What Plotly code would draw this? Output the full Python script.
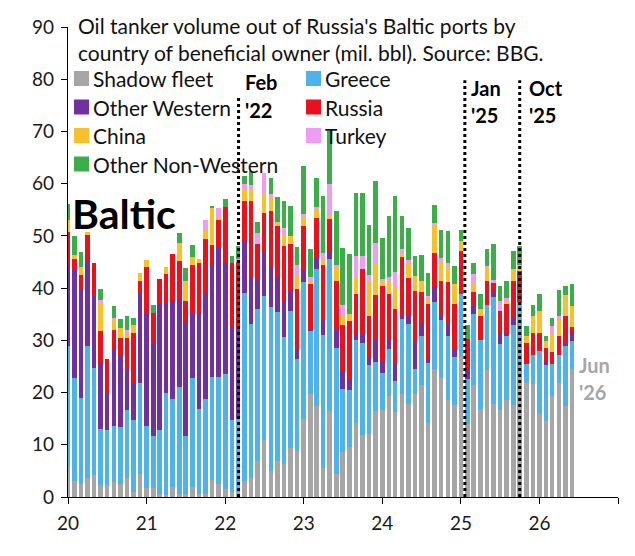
import plotly.graph_objects as go
import pandas as pd

# ---- data (mil. bbl), monthly Jan 2020 .. Jun 2026 ----
months = pd.date_range("2020-01-01", "2026-06-01", freq="MS")

shadow = [5.7,3.1,2.5,3.7,4.2,2.3,2.3,2.9,2.5,3.7,1.0,4.5,
          1.7,1.7,0.5,0.3,1.9,0.6,0.6,1.9,0.6,0.5,3.2,2.5,
          1.5,1.0,1.0,3.1,3.7,6.9,11.0,5.0,6.9,6.4,9.3,8.9,
          15.0,19.8,17.5,5.6,16.5,4.5,8.7,9.6,14.1,11.8,12.1,16.4,
          16.6,19.4,16.3,19.8,17.9,19.8,21.5,14.1,24.5,22.8,18.5,17.7,
          27.0,14.0,21.4,16.9,24.4,17.9,16.7,18.6,17.7,23.6,22.0,21.7,
          15.9,14.5,19.4,21.8,17.5,24.5]
greece = [23.3,19.7,16.5,25.2,20.5,10.7,10.5,10.7,10.9,12.9,13.7,17.3,
          11.9,10.0,12.3,19.6,16.8,20.4,11.1,20.9,16.2,18.2,19.7,20.4,
          22.0,13.7,14.0,35.9,29.5,29.1,27.4,31.3,28.5,24.2,26.4,17.6,
          26.1,11.9,26.2,25.4,29.0,24.0,12.0,10.8,16.0,17.7,13.1,9.4,
          7.1,9.0,6.0,14.3,15.3,4.7,9.4,11.5,12.8,11.0,12.4,9.2,
          11.8,8.6,13.7,13.2,12.3,20.4,12.6,12.3,15.3,13.7,3.5,5.4,
          12.0,10.7,6.1,5.3,11.5,5.3]
other_western = [15.5,20.7,20.7,16.2,13.7,12.7,6.9,14.7,13.6,7.8,7.1,17.2,
                 21.4,17.7,24.1,17.0,18.9,17.0,21.4,12.2,18.2,20.3,21.4,24.7,
                 21.4,17.8,17.0,10.1,8.9,5.6,8.6,7.8,6.7,6.7,3.5,1.7,
                 2.4,0.5,2.3,3.1,1.7,3.5,3.3,2.2,0.9,1.7,1.6,4.3,
                 2.3,1.9,3.2,0.6,1.4,5.1,2.4,0.9,3.0,0.9,2.3,1.5,
                 0,1.9,1.4,0,0,0.9,2.2,0.6,1.4,0,0,0,
                 0,0.9,0,0,0.3,1.6]
russia = [6.3,2.0,2.9,5.1,6.4,6.0,6.7,3.7,3.5,6.0,9.6,2.4,
          9.0,5.8,4.8,5.8,8.9,7.1,4.5,9.5,9.8,10.5,3.9,5.4,
          10.7,12.3,13.0,7.6,14.6,6.9,7.3,10.6,9.7,10.8,9.3,11.6,
          8.3,8.6,7.5,10.4,6.0,9.4,8.9,11.1,7.9,12.5,7.9,8.5,
          14.5,8.6,10.5,11.2,7.4,9.9,5.9,10.5,6.5,6.7,7.9,8.6,
          8.4,5.8,2.7,4.6,4.7,1.8,4.2,5.5,7.0,6.0,4.0,4.4,
          3.6,2.4,2.2,3.8,5.4,1.2]
china = [2.2,0.9,1.5,0.6,0,5.4,0,2.0,1.9,1.0,1.5,1.5,
         1.3,0,0,1.3,0,3.5,3.8,1.5,0.8,1.7,7.2,0.7,
         0,0,0,2.3,2.3,0,3.7,2.8,0.8,1.9,1.5,2.6,
         1.7,0.6,1.5,0.8,0.8,2.4,1.8,1.4,3.2,0,6.7,6.0,
         0.6,2.5,4.0,0.9,2.9,2.9,2.2,0.9,5.0,3.7,3.0,3.7,
         1.9,0,1.7,1.3,2.5,0,0,0.6,2.3,1.2,1.4,3.2,
         4.2,1.3,3.8,3.0,3.9,3.9]
turkey = [0,0,0,0,0,0.7,0,0.3,0,0.6,0,0,
          0,0,0,0,0,0,0,0,0,1.8,0,1.7,
          0,0,0.5,1.0,0.8,2.0,4.1,0.6,0,1.6,0,2.1,
          0.7,0.7,0.5,1.5,5.9,0.7,2.0,0,4.1,2.5,1.2,4.0,
          0.7,0.8,3.0,0.7,0.5,0,0,0.5,0.6,0.7,0.8,0,
          0,0,1.8,0,0.4,0.6,1.9,0.6,0,0,0,0,
          0,0,1.3,0.7,0,0]
other_nonwestern = [3.2,3.5,2.9,0,0,2.0,0,2.2,1.6,2.6,1.4,0,
                    0,1.5,0,0,0,1.9,2.4,2.2,0,0,0.2,0,
                    1.4,1.4,2.5,1.5,2.7,2.1,0,3.0,4.9,5.0,5.8,3.3,
                    9.2,5.4,5.6,10.9,10.2,10.3,11.0,11.4,12.1,12.1,9.5,12.0,
                    7.8,11.7,14.7,6.4,6.2,3.8,5.0,4.4,3.6,5.3,6.1,3.6,
                    2.1,2.7,2.2,2.9,3.1,6.9,2.9,3.2,3.5,3.6,1.9,2.1,
                    3.1,1.1,1.5,5.1,1.9,4.2]

series_names = ["Shadow fleet", "Greece", "Other Western", "Russia",
                "China", "Turkey", "Other Non-Western"]
series_values = [shadow, greece, other_western, russia, china, turkey, other_nonwestern]
colors = ["#A6A6A6", "#4FB3EA", "#7030A0", "#E8121E", "#F6C12A", "#F09CF0", "#3DAD4A"]

events = [("2022-03-04", "Feb", "'22", 76.5),
          ("2025-01-19", "Jan", "'25", 79.8),
          ("2025-10-01", "Oct", "'25", 79.8)]

tick_years = ["2020-01-01", "2021-01-01", "2022-01-01", "2023-01-01",
              "2024-01-01", "2025-01-01", "2026-01-01", "2027-01-01"]
tick_text = ["20", "21", "22", "23", "24", "25", "26", ""]

# ---- layout geometry ----
W, H = 635, 556
L, R, T, B = 68, 17, 27, 59
PW, PH = W - L - R, H - T - B

def px(x):
    return (x - L) / PW

def py(y):
    return (H - B - y) / PH

FONT = "Lato"
bar_w = 0.70 * 30.44 * 86400000

fig = go.Figure()
for name, vals, col in zip(series_names, series_values, colors):
    fig.add_trace(go.Bar(x=months, y=vals, name=name, marker_color=col,
                         marker_line_width=0, width=bar_w, showlegend=False))

shapes = []
annotations = []
for xd, t1, t2, ytop in events:
    shapes.append(dict(type="line", xref="x", yref="y", x0=xd, x1=xd, y0=0, y1=ytop,
                       line=dict(color="black", width=3, dash="3px,3px")))

# title
annotations.append(dict(xref="paper", yref="paper", x=px(76), y=py(26), xanchor="left",
                        yanchor="middle", showarrow=False,
                        text="Oil tanker volume out of Russia's Baltic ports by",
                        font=dict(family=FONT, size=21, color="#111")))
annotations.append(dict(xref="paper", yref="paper", x=px(76), y=py(53), xanchor="left",
                        yanchor="middle", showarrow=False,
                        text="country of beneficial owner (mil. bbl). Source: BBG.",
                        font=dict(family=FONT, size=21, color="#111")))

# legend (manual, two columns)
leg_pos = [(74, 78.5), (306, 78.5), (74, 107), (306, 107),
           (74, 135.5), (306, 135.5), (74, 164)]
for (lx, ly), name, col in zip(leg_pos, series_names, colors):
    shapes.append(dict(type="rect", xref="paper", yref="paper",
                       x0=px(lx), x1=px(lx + 15), y0=py(ly + 7.5), y1=py(ly - 7.5),
                       fillcolor=col, line=dict(width=0)))
    annotations.append(dict(xref="paper", yref="paper", x=px(lx + 17), y=py(ly),
                            xanchor="left", yanchor="middle", showarrow=False, text=name,
                            font=dict(family=FONT, size=21, color="#111")))

# event labels
ev_lab = [(243, 82, 110), (469, 88, 115), (527, 88, 115)]
for (lx, y1, y2), (_, t1, t2, _y) in zip(ev_lab, events):
    for yy, tt in ((y1, t1), (y2, t2)):
        annotations.append(dict(xref="paper", yref="paper", x=px(lx), y=py(yy),
                                xanchor="left", yanchor="middle", showarrow=False,
                                text="<b>%s</b>" % tt,
                                font=dict(family=FONT, size=20, color="black")))

for yy, tt in ((365, "Jun"), (392, "'26")):
    annotations.append(dict(xref="paper", yref="paper", x=px(577), y=py(yy),
                            xanchor="left", yanchor="middle", showarrow=False,
                            text="<b>%s</b>" % tt,
                            font=dict(family=FONT, size=20, color="#A6A6A6")))

annotations.append(dict(xref="paper", yref="paper", x=px(70), y=py(213),
                        xanchor="left", yanchor="middle", showarrow=False,
                        text="<b>Baltic</b>",
                        font=dict(family=FONT, size=41, color="black")))

fig.update_layout(
    width=W, height=H, barmode="stack",
    margin=dict(l=L, r=R, t=T, b=B, pad=0),
    paper_bgcolor="white", plot_bgcolor="white",
    font=dict(family=FONT, size=19, color="#1a1a1a"),
    shapes=shapes, annotations=annotations,
    xaxis=dict(type="date", range=["2020-01-01", "2027-01-01"],
               tickmode="array", tickvals=tick_years, ticktext=tick_text,
               showline=True, linecolor="black", linewidth=1.2,
               ticks="outside", ticklen=6, tickcolor="black",
               showgrid=False, zeroline=False, ticklabelstandoff=3,
               tickfont=dict(family=FONT, size=19, color="#1a1a1a")),
    yaxis=dict(range=[0, 90], tickmode="array", tickvals=list(range(0, 91, 10)),
               showline=True, linecolor="black", linewidth=1.2,
               ticks="outside", ticklen=6, tickcolor="black",
               showgrid=False, zeroline=False, ticklabelstandoff=3,
               tickfont=dict(family=FONT, size=19, color="#1a1a1a")),
)

fig.write_html("out.html")
